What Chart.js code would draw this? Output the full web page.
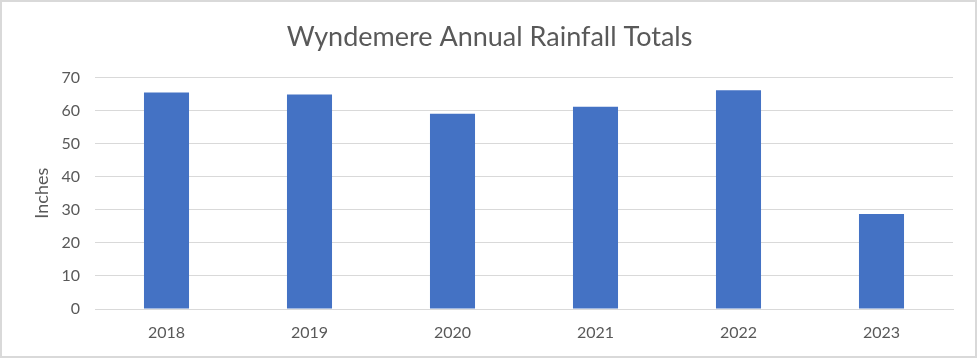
<!DOCTYPE html>
<html>
<head>
<meta charset="utf-8">
<script src="https://cdn.jsdelivr.net/npm/chart.js@4.4.1/dist/chart.umd.min.js"></script>
<style>
  html, body { margin: 0; padding: 0; background: #ffffff; }
  #wrap { width: 977px; height: 358px; position: relative; }
  canvas { display: block; }
</style>
</head>
<body>
<div id="wrap"><canvas id="c" width="977" height="358"></canvas></div>
<script>
const categories = ["2018", "2019", "2020", "2021", "2022", "2023"];
const rainfall = [65.4, 64.8, 59.0, 61.1, 66.1, 28.7];
const yTicks = [0, 10, 20, 30, 40, 50, 60, 70];
const chartTitle = "Wyndemere Annual Rainfall Totals";
const yAxisTitle = "Inches";

const textColor = "#595959";
const gridColor = "#d9d9d9";
const fontFamily = "Lato, 'Open Sans', sans-serif";

const borderPlugin = {
  id: "outerBorder",
  afterDraw(chart) {
    const ctx = chart.ctx;
    ctx.save();
    ctx.strokeStyle = gridColor;
    ctx.lineWidth = 2;
    ctx.strokeRect(1, 1, chart.width - 2, chart.height - 2);
    ctx.restore();
  }
};

new Chart(document.getElementById("c"), {
  type: "bar",
  data: {
    labels: categories,
    datasets: [{
      label: "Rainfall",
      data: rainfall,
      backgroundColor: "#4472C4",
      borderWidth: 0,
      barPercentage: 0.315,
      categoryPercentage: 1.0
    }]
  },
  options: {
    responsive: false,
    animation: false,
    devicePixelRatio: 1,
    layout: { padding: { left: 26, right: 24, top: 0, bottom: 16 } },
    plugins: {
      legend: { display: false },
      tooltip: { enabled: false },
      title: {
        display: true,
        text: chartTitle,
        color: textColor,
        font: { family: fontFamily, size: 27, weight: "400" },
        padding: { top: 21, bottom: 24 }
      }
    },
    scales: {
      x: {
        grid: { display: false, drawTicks: false },
        border: { display: true, color: gridColor, width: 1 },
        ticks: {
          color: textColor,
          font: { family: fontFamily, size: 16 },
          padding: 14,
          maxRotation: 0
        },
        afterFit(scale) { scale.height = 33; }
      },
      y: {
        min: 0,
        max: 70,
        afterBuildTicks(scale) { scale.ticks = yTicks.map(v => ({ value: v })); },
        grid: { color: gridColor, lineWidth: 1, drawTicks: false },
        border: { display: false },
        ticks: {
          color: textColor,
          font: { family: fontFamily, size: 16 },
          padding: 15
        },
        title: {
          display: true,
          text: yAxisTitle,
          color: textColor,
          font: { family: fontFamily, size: 18 },
          padding: { top: 5, bottom: 0 }
        },
        afterFit(scale) { scale.width = 69; }
      }
    }
  },
  plugins: [borderPlugin]
});
</script>
</body>
</html>
